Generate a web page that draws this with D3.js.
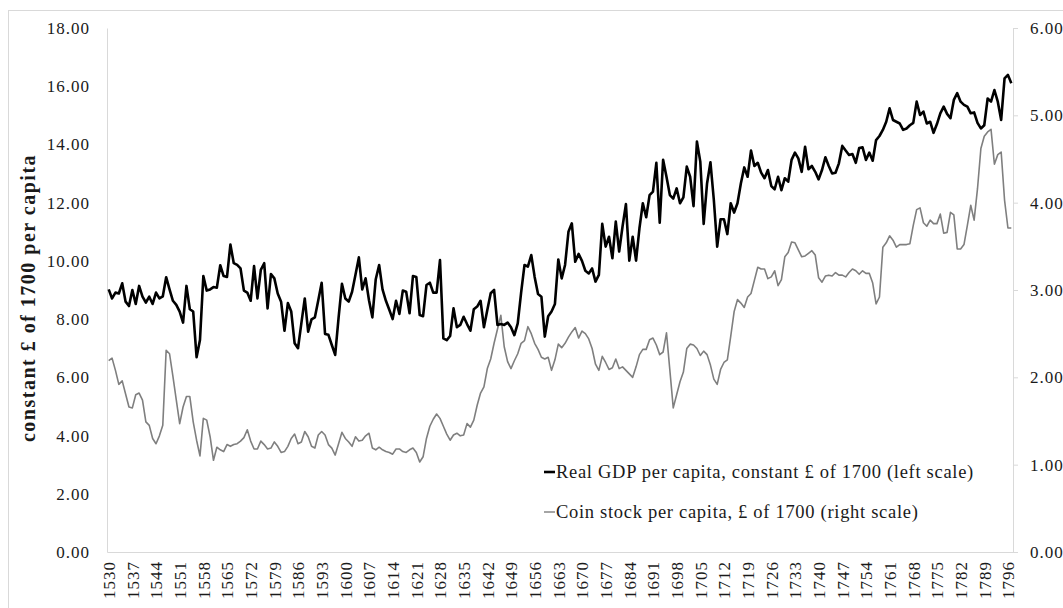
<!DOCTYPE html>
<html>
<head>
<meta charset="utf-8">
<script src="https://cdn.jsdelivr.net/npm/d3@7"></script>
<style>
  body { margin: 0; background: #fff; }
  svg { display: block; font-family: "Liberation Serif", "DejaVu Serif", serif; }
</style>
</head>
<body>
<svg id="chart" width="1063" height="608"></svg>
<script>
// years on the category axis, 1530..1797
var YEARS = d3.range(1530, 1798);

// real GDP per capita, constant £ of 1700 (left scale)
var GDP = [
  9.02, 8.71, 8.91, 8.88, 9.23, 8.60, 8.45, 9.00, 8.52, 9.14,
  8.77, 8.57, 8.77, 8.52, 8.91, 8.71, 8.78, 9.44, 9.02, 8.63,
  8.49, 8.26, 7.88, 9.14, 8.34, 8.26, 6.69, 7.28, 9.48, 8.98,
  9.02, 9.10, 9.08, 9.85, 9.48, 9.45, 10.56, 9.92, 9.86, 9.74,
  8.98, 8.91, 8.63, 9.82, 8.71, 9.69, 9.92, 8.37, 9.55, 9.40,
  8.88, 8.60, 7.60, 8.55, 8.26, 7.17, 7.00, 7.86, 8.71, 7.57,
  7.99, 8.06, 8.65, 9.25, 7.49, 7.46, 7.11, 6.77, 8.04, 9.21,
  8.71, 8.60, 8.94, 9.52, 10.12, 9.02, 9.40, 8.65, 8.06, 9.37,
  9.86, 9.02, 8.63, 8.32, 8.00, 8.63, 8.18, 8.98, 8.94, 8.20,
  9.48, 9.45, 8.14, 8.10, 9.17, 9.25, 8.91, 8.91, 10.03, 7.34,
  7.28, 7.42, 8.37, 7.72, 7.80, 8.08, 7.83, 7.60, 8.34, 8.43,
  8.63, 7.72, 8.31, 8.89, 9.00, 7.80, 7.83, 7.80, 7.88, 7.72,
  7.45, 7.85, 8.91, 9.86, 9.80, 10.20, 9.45, 8.86, 8.77, 7.40,
  8.10, 8.26, 8.52, 10.05, 9.40, 9.86, 11.00, 11.29, 9.97, 10.24,
  10.00, 9.66, 9.57, 9.74, 9.29, 9.52, 11.27, 10.49, 10.83, 10.09,
  11.35, 10.32, 11.18, 11.95, 10.01, 10.83, 10.01, 11.12, 11.98, 11.50,
  12.26, 12.38, 13.37, 11.31, 13.47, 12.89, 12.26, 12.14, 12.49, 11.98,
  12.18, 13.24, 12.89, 11.88, 14.10, 13.41, 11.27, 12.66, 13.39, 12.10,
  10.49, 11.43, 11.43, 10.92, 11.98, 11.66, 11.98, 12.66, 13.21, 12.89,
  13.79, 13.26, 13.37, 13.03, 12.84, 13.12, 12.57, 12.46, 12.89, 12.43,
  12.84, 12.72, 13.47, 13.72, 13.52, 13.06, 13.92, 13.15, 13.26, 13.06,
  12.80, 13.12, 13.56, 13.26, 13.00, 13.03, 13.35, 13.95, 13.79, 13.64,
  13.67, 13.37, 13.88, 13.90, 13.47, 13.72, 13.44, 14.15, 14.29, 14.50,
  14.78, 15.24, 14.84, 14.78, 14.72, 14.50, 14.55, 14.66, 14.74, 15.47,
  15.01, 15.13, 14.72, 14.78, 14.40, 14.70, 15.07, 15.30, 15.05, 14.90,
  15.53, 15.76, 15.47, 15.36, 15.30, 15.07, 15.10, 14.74, 14.55, 14.66,
  15.58, 15.47, 15.87, 15.47, 14.84, 16.27, 16.39, 16.10
];

// coin stock per capita, £ of 1700 (right scale)
var COIN = [
  2.19, 2.22, 2.08, 1.92, 1.96, 1.81, 1.66, 1.65, 1.80, 1.82,
  1.74, 1.49, 1.45, 1.30, 1.24, 1.33, 1.45, 2.31, 2.27, 2.01,
  1.74, 1.47, 1.66, 1.78, 1.78, 1.49, 1.28, 1.10, 1.53, 1.51,
  1.32, 1.05, 1.20, 1.17, 1.15, 1.23, 1.21, 1.23, 1.24, 1.27,
  1.31, 1.40, 1.27, 1.18, 1.18, 1.27, 1.23, 1.18, 1.19, 1.26,
  1.21, 1.14, 1.15, 1.21, 1.30, 1.35, 1.24, 1.26, 1.38, 1.32,
  1.21, 1.19, 1.34, 1.38, 1.34, 1.23, 1.19, 1.11, 1.24, 1.37,
  1.30, 1.26, 1.21, 1.32, 1.27, 1.28, 1.33, 1.36, 1.19, 1.17,
  1.20, 1.17, 1.15, 1.14, 1.12, 1.18, 1.18, 1.15, 1.14, 1.17,
  1.19, 1.14, 1.03, 1.09, 1.30, 1.44, 1.52, 1.58, 1.53, 1.44,
  1.35, 1.28, 1.34, 1.36, 1.33, 1.34, 1.47, 1.43, 1.51, 1.68,
  1.82, 1.89, 2.10, 2.21, 2.39, 2.55, 2.71, 2.35, 2.18, 2.10,
  2.19, 2.27, 2.39, 2.42, 2.58, 2.50, 2.39, 2.32, 2.23, 2.21,
  2.23, 2.08, 2.20, 2.38, 2.34, 2.39, 2.46, 2.52, 2.57, 2.45,
  2.53, 2.50, 2.44, 2.33, 2.15, 2.08, 2.24, 2.17, 2.09, 2.11,
  2.21, 2.10, 2.12, 2.08, 2.04, 2.00, 2.12, 2.26, 2.32, 2.32,
  2.43, 2.45, 2.37, 2.26, 2.29, 2.51, 2.08, 1.65, 1.80, 1.95,
  2.06, 2.33, 2.38, 2.37, 2.33, 2.25, 2.30, 2.26, 2.14, 1.98,
  1.92, 2.09, 2.17, 2.20, 2.47, 2.75, 2.89, 2.85, 2.80, 2.92,
  2.96, 3.11, 3.26, 3.24, 3.24, 3.13, 3.15, 3.22, 3.05, 3.12,
  3.38, 3.43, 3.55, 3.54, 3.46, 3.38, 3.39, 3.42, 3.45, 3.40,
  3.14, 3.09, 3.16, 3.17, 3.16, 3.20, 3.17, 3.17, 3.15, 3.20,
  3.24, 3.22, 3.18, 3.22, 3.19, 3.19, 3.08, 2.84, 2.92, 3.49,
  3.54, 3.62, 3.57, 3.49, 3.52, 3.52, 3.52, 3.53, 3.74, 3.92,
  3.94, 3.77, 3.73, 3.80, 3.76, 3.76, 3.87, 3.65, 3.66, 3.89,
  3.86, 3.47, 3.47, 3.52, 3.74, 3.97, 3.80, 4.16, 4.62, 4.76,
  4.81, 4.84, 4.44, 4.55, 4.58, 4.03, 3.71, 3.71
];

var LEFT_TICKS = [0, 2, 4, 6, 8, 10, 12, 14, 16, 18];
var RIGHT_TICKS = [0, 1, 2, 3, 4, 5, 6];
var YEAR_TICKS = [1530, 1537, 1544, 1551, 1558, 1565, 1572, 1579, 1586, 1593,
  1600, 1607, 1614, 1621, 1628, 1635, 1642, 1649, 1656, 1663,
  1670, 1677, 1684, 1691, 1698, 1705, 1712, 1719, 1726, 1733,
  1740, 1747, 1754, 1761, 1768, 1775, 1782, 1789, 1796];
var SERIES_NAMES = ['Real GDP per capita, constant \u00a3 of 1700 (left scale)',
  'Coin stock per capita, \u00a3 of 1700 (right scale)'];
var Y_TITLE = 'constant \u00a3 of 1700 per capita';

var PLOT = {'left': 107, 'right': 1013, 'top': 28, 'bottom': 552};
var AXISCOLOR = '#d9d9d9';
var TEXTCOLOR = '#1a1a1a';

var svg = d3.select('#chart');

function main()
{
  //frame around the whole chart, runs off the right / bottom edge like the original
  svg.append('rect')
    .attr('x', 8.5).attr('y', 10.5)
    .attr('width', 1080).attr('height', 620)
    .style('fill', 'none').style('stroke', AXISCOLOR);

  var x = d3.scalePoint().domain(YEARS).range([PLOT.left, PLOT.right]).padding(0.5);
  var yL = d3.scaleLinear().domain([0, 18]).range([PLOT.bottom, PLOT.top]);
  var yR = d3.scaleLinear().domain([0, 6]).range([PLOT.bottom, PLOT.top]);

  var gL = svg.append('g').attr('transform', 'translate(' + PLOT.left + ',0)')
    .call(d3.axisLeft(yL).tickValues(LEFT_TICKS).tickSize(0).tickSizeOuter(0).tickPadding(17).tickFormat(d3.format('.2f')));
  var gR = svg.append('g').attr('transform', 'translate(' + PLOT.right + ',0)')
    .call(d3.axisRight(yR).tickValues(RIGHT_TICKS).tickSize(5).tickSizeOuter(0).tickPadding(12).tickFormat(d3.format('.2f')));
  var gB = svg.append('g').attr('transform', 'translate(0,' + PLOT.bottom + ')')
    .call(d3.axisBottom(x).tickValues(YEAR_TICKS).tickSize(0).tickSizeOuter(0));

  [gL, gR, gB].forEach(function(g) {
    g.selectAll('path.domain').style('stroke', AXISCOLOR);
    g.selectAll('line').style('stroke', AXISCOLOR);
    g.selectAll('text')
      .style('font-family', '"Liberation Serif", serif')
      .style('font-size', '17px')
      .style('letter-spacing', '1px')
      .style('fill', TEXTCOLOR);
  });

  //year labels read bottom to top
  gB.selectAll('text')
    .attr('transform', 'rotate(-90)')
    .attr('text-anchor', 'end')
    .attr('x', -9)
    .attr('y', 0)
    .attr('dy', '0.35em');

  var lineL = d3.line().x(function(d, i) { return x(YEARS[i]); }).y(function(d) { return yL(d); });
  var lineR = d3.line().x(function(d, i) { return x(YEARS[i]); }).y(function(d) { return yR(d); });

  svg.append('path').datum(COIN)
    .attr('d', lineR)
    .style('fill', 'none').style('stroke', '#7f7f7f').style('stroke-width', 1.6)
    .style('stroke-linejoin', 'round');
  svg.append('path').datum(GDP)
    .attr('d', lineL)
    .style('fill', 'none').style('stroke', '#000').style('stroke-width', 2.6)
    .style('stroke-linejoin', 'round');

  //y title
  svg.append('text')
    .attr('transform', 'translate(35,298) rotate(-90)')
    .attr('text-anchor', 'middle')
    .style('font-weight', 'bold')
    .style('font-size', '20px')
    .style('letter-spacing', '1.5px')
    .style('fill', TEXTCOLOR)
    .text(Y_TITLE);

  //legend, inside the plot at the bottom right
  var legend = [
    {'name': SERIES_NAMES[0], 'color': '#000', 'width': 2.6, 'y': 472},
    {'name': SERIES_NAMES[1], 'color': '#7f7f7f', 'width': 1.4, 'y': 512}
  ];
  var gLeg = svg.append('g').classed('legend', true);
  legend.forEach(function(d) {
    gLeg.append('line')
      .attr('x1', 544).attr('x2', 555)
      .attr('y1', d.y).attr('y2', d.y)
      .style('stroke', d.color).style('stroke-width', d.width);
    gLeg.append('text')
      .attr('x', 556).attr('y', d.y)
      .attr('dy', '0.33em')
      .style('font-size', '18.5px')
      .style('letter-spacing', '0.7px')
      .style('fill', TEXTCOLOR)
      .text(d.name);
  });
}

main();
</script>
</body>
</html>
